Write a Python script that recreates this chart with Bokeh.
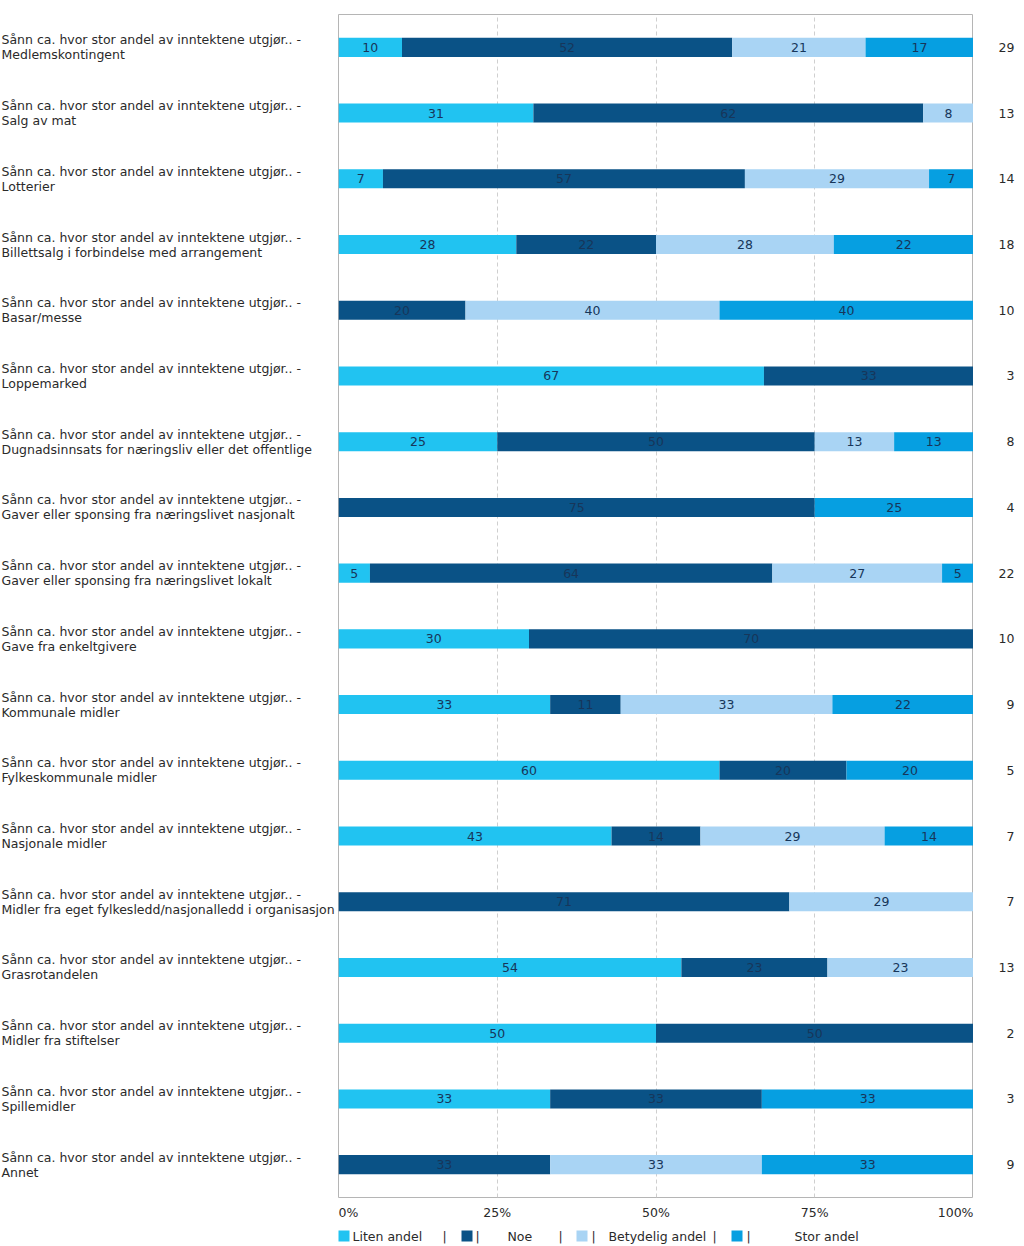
import math
import numpy as np
from bokeh.plotting import figure
from bokeh.models import ColumnDataSource, FactorRange, Range1d
from bokeh.layouts import row, column
from bokeh.embed import file_html
from bokeh.resources import INLINE
from bokeh.core.properties import value

prefix = "Sånn ca. hvor stor andel av inntektene utgjør.. -"
categories = [
    "Medlemskontingent", "Salg av mat", "Lotterier",
    "Billettsalg i forbindelse med arrangement", "Basar/messe", "Loppemarked",
    "Dugnadsinnsats for næringsliv eller det offentlige",
    "Gaver eller sponsing fra næringslivet nasjonalt",
    "Gaver eller sponsing fra næringslivet lokalt", "Gave fra enkeltgivere",
    "Kommunale midler", "Fylkeskommunale midler", "Nasjonale midler",
    "Midler fra eget fylkesledd/nasjonalledd i organisasjon", "Grasrotandelen",
    "Midler fra stiftelser", "Spillemidler", "Annet",
]
liten = [10, 31, 7, 28, 0, 67, 25, 0, 5, 30, 33, 60, 43, 0, 54, 50, 33, 0]
noe = [52, 62, 57, 22, 20, 33, 50, 75, 64, 70, 11, 20, 14, 71, 23, 50, 33, 33]
betydelig = [21, 8, 29, 28, 40, 0, 12.5, 0, 27, 0, 33, 0, 29, 29, 23, 0, 0, 33]
stor = [17, 0, 7, 22, 40, 0, 12.5, 25, 5, 0, 22, 20, 14, 0, 0, 0, 33, 33]
n_resp = [29, 13, 14, 18, 10, 3, 8, 4, 22, 10, 9, 5, 7, 7, 13, 2, 3, 9]
series_names = ["Liten andel", "Noe", "Betydelig andel", "Stor andel"]
tick_values = [0, 25, 50, 75, 100]
tick_labels = ["0%", "25%", "50%", "75%", "100%"]

colors = ["#21c3f1", "#0a5286", "#a9d4f4", "#069fe1"]
FONT = value("DejaVu Sans")
FS = "12.5px"
TXT = "#2a2a2a"
BAR_TXT = "#17365a"

PAGE_W = 1024
LEFT_W = 338
PLOT_W = 635
RIGHT_W = PAGE_W - LEFT_W - PLOT_W
H = 1200
TOP = 14
BOT = 3

series = [liten, noe, betydelig, stor]
keys = ["s0", "s1", "s2", "s3"]
data = {"cat": categories}
for k in keys:
    data[k] = []
totals = [sum(vals) for vals in zip(*series)]
for i in range(len(categories)):
    for k, s in zip(keys, series):
        data[k].append(s[i] / totals[i] * 100.0)
src = ColumnDataSource(data)

# segment labels
lx, ly, lt = [], [], []
for i, c in enumerate(categories):
    left = 0.0
    for k, s in zip(keys, series):
        w = data[k][i]
        if s[i] > 0:
            lx.append(left + w / 2)
            ly.append(c)
            lt.append(str(int(math.floor(s[i] + 0.5))))
        left += w
lsrc = ColumnDataSource(dict(x=lx, y=ly, t=lt))

yr = FactorRange(*list(reversed(categories)), range_padding=0)

# main plot
p = figure(width=PLOT_W, height=H, x_range=Range1d(0, 100), y_range=yr,
           toolbar_location=None, output_backend="svg",
           x_axis_location=None, y_axis_location=None,
           min_border_left=0, min_border_right=0, min_border_top=TOP,
           min_border_bottom=BOT)
p.hbar_stack(keys, y="cat", height=0.29, color=colors, line_color=None, source=src)
p.text(x="x", y="y", text="t", source=lsrc, text_align="center",
       text_baseline="middle", text_font=FONT, text_font_size=FS,
       text_color=BAR_TXT)
p.outline_line_color = "#b5b5b5"
p.outline_line_width = 1
p.ygrid.grid_line_color = None
p.xgrid.ticker = tick_values
p.xgrid.grid_line_color = "#cfcfcf"
p.xgrid.grid_line_dash = "4 3"

# left labels
pl = figure(width=LEFT_W, height=H, x_range=Range1d(0, LEFT_W), y_range=yr,
            toolbar_location=None, output_backend="svg",
            x_axis_location=None, y_axis_location=None,
            min_border_left=0, min_border_right=0, min_border_top=TOP,
            min_border_bottom=BOT, outline_line_color=None)
pl.grid.visible = False
pl.text(x=[1] * len(categories), y=categories,
        text=[prefix + "\n" + c for c in categories], text_align="left",
        text_baseline="middle", text_font=FONT, text_font_size=FS,
        text_color=TXT, text_line_height=1.0)

# right n column
pr = figure(width=RIGHT_W, height=H, x_range=Range1d(0, RIGHT_W), y_range=yr,
            toolbar_location=None, output_backend="svg",
            x_axis_location=None, y_axis_location=None,
            min_border_left=0, min_border_right=0, min_border_top=TOP,
            min_border_bottom=BOT, outline_line_color=None)
pr.grid.visible = False
pr.text(x=[41] * len(categories), y=categories, text=[str(n) for n in n_resp],
        text_align="right", text_baseline="middle", text_font=FONT,
        text_font_size=FS, text_color=TXT)

# tick label strip, x in percent units aligned with the main plot
TH = 24
px_per_pct = PLOT_W / 100.0
pt = figure(width=PAGE_W, height=TH,
            x_range=Range1d(-LEFT_W / px_per_pct, (PAGE_W - LEFT_W) / px_per_pct),
            y_range=Range1d(0, TH), toolbar_location=None, output_backend="svg",
            x_axis_location=None, y_axis_location=None, min_border=0,
            outline_line_color=None)
pt.grid.visible = False
aligns = ["left"] + ["center"] * (len(tick_values) - 2) + ["right"]
pt.text(x=tick_values, y=[TH - 12] * len(tick_values), text=tick_labels,
        text_align=aligns, text_baseline="middle", text_font=FONT,
        text_font_size=FS, text_color=TXT)

# legend strip (coordinates in page pixels)
LH = 1246 - H - TH
top_y = H + TH
lg = figure(width=PAGE_W, height=LH, x_range=Range1d(0, PAGE_W),
            y_range=Range1d(top_y + LH, top_y), toolbar_location=None,
            output_backend="svg", x_axis_location=None, y_axis_location=None,
            min_border=0, outline_line_color=None)
lg.grid.visible = False
LY = 1235.5
sq_x = [343.5, 466.5, 581.5, 736.5]
lg.rect(x=sq_x, y=[LY] * 4, width=11, height=11, width_units="screen",
        height_units="screen", color=colors, line_color=None)
leg_txt = [series_names[0], "|", "|", series_names[1], "|", "|",
           series_names[2], "|", "|", series_names[3]]
leg_x = [352, 442, 475, 507, 558, 591, 608, 712, 746, 794]
lg.text(x=leg_x, y=[LY] * len(leg_x), text=leg_txt, text_align="left",
        text_baseline="middle", text_font=FONT, text_font_size=FS,
        text_color=TXT)

layout = column(row(pl, p, pr, spacing=0), pt, lg, spacing=0)
open("out.html", "w").write(file_html(layout, INLINE))
